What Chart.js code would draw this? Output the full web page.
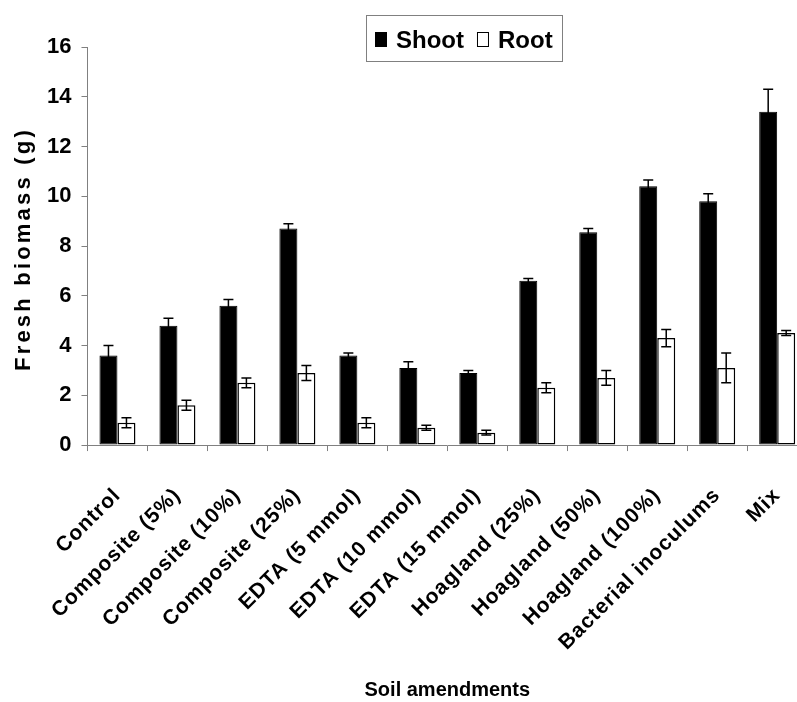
<!DOCTYPE html>
<html>
<head>
<meta charset="utf-8">
<script src="https://cdn.jsdelivr.net/npm/chart.js@4/dist/chart.umd.min.js"></script>
<style>
  html, body { margin: 0; padding: 0; background: #ffffff; overflow: hidden; width: 797px; height: 702px; }
  canvas { display: block; }
</style>
</head>
<body>
<canvas id="chart" width="827" height="702"></canvas>
<script>
// Soil amendment treatments
const categories = [
  "Control", "Composite (5%)", "Composite (10%)", "Composite (25%)",
  "EDTA (5 mmol)", "EDTA (10 mmol)", "EDTA (15 mmol)",
  "Hoagland (25%)", "Hoagland (50%)", "Hoagland (100%)",
  "Bacterial inoculums", "Mix"
];

// Fresh biomass (g) and standard errors
const shootValues = [3.6, 4.8, 5.6, 8.7, 3.6, 3.1, 2.9, 6.6, 8.55, 10.4, 9.8, 13.4];
const shootErrors = [0.4, 0.3, 0.25, 0.2, 0.1, 0.25, 0.1, 0.1, 0.15, 0.25, 0.3, 0.9];
const rootValues  = [0.9, 1.6, 2.5, 2.9, 0.9, 0.7, 0.5, 2.3, 2.7, 4.3, 3.1, 4.5];
const rootErrors  = [0.2, 0.2, 0.2, 0.3, 0.2, 0.1, 0.1, 0.2, 0.3, 0.35, 0.6, 0.1];

const yTicks = [0, 2, 4, 6, 8, 10, 12, 14, 16];

const FONT = "'Liberation Sans', Arial, Helvetica, sans-serif";
const AXIS_GREY = '#808080';

// Error bars: a vertical whisker with caps on every bar
const errorBars = {
  id: 'errorBars',
  afterDatasetsDraw(chart) {
    const ctx = chart.ctx;
    const yScale = chart.scales.y;
    ctx.save();
    ctx.strokeStyle = '#000000';
    ctx.lineWidth = 1.5;
    chart.data.datasets.forEach((ds, i) => {
      const meta = chart.getDatasetMeta(i);
      meta.data.forEach((bar, j) => {
        const v = ds.data[j], e = ds.errors[j];
        const yTop = yScale.getPixelForValue(v + e);
        const yBot = yScale.getPixelForValue(v - e);
        const x = bar.x, half = 5;
        ctx.beginPath();
        ctx.moveTo(x, yTop); ctx.lineTo(x, yBot);
        ctx.moveTo(x - half, yTop); ctx.lineTo(x + half, yTop);
        ctx.moveTo(x - half, yBot); ctx.lineTo(x + half, yBot);
        ctx.stroke();
      });
    });
    ctx.restore();
  }
};

// Slightly tracked category labels on the x axis
const spacedXLabels = {
  id: 'spacedXLabels',
  beforeDraw(chart) {
    const xs = chart.scales.x;
    if (!xs || xs.$spaced) return;
    const drawLabels = xs.drawLabels.bind(xs);
    xs.drawLabels = function (area) {
      this.ctx.save();
      this.ctx.letterSpacing = '1px';
      drawLabels(area);
      this.ctx.restore();
    };
    xs.$spaced = true;
  }
};

// Boxed legend in the upper part of the plot
const boxedLegend = {
  id: 'boxedLegend',
  afterDraw(chart) {
    const ctx = chart.ctx;
    const box = { x: 366.5, y: 15.5, w: 196, h: 46 };
    ctx.save();
    ctx.strokeStyle = AXIS_GREY;
    ctx.lineWidth = 1;
    ctx.strokeRect(box.x, box.y, box.w, box.h);
    ctx.font = `bold 24px ${FONT}`;
    ctx.textBaseline = 'alphabetic';
    ctx.textAlign = 'left';
    let x = 375;
    chart.data.datasets.forEach((ds) => {
      ctx.fillStyle = ds.backgroundColor;
      ctx.fillRect(x, 32, 12, 15);
      ctx.strokeStyle = '#000000';
      ctx.lineWidth = 1;
      ctx.strokeRect(x + 0.5, 32.5, 11, 14);
      x += 12 + 9;
      ctx.fillStyle = '#000000';
      ctx.fillText(ds.label, x, 48);
      x += ctx.measureText(ds.label).width + 13;
    });
    ctx.restore();
  }
};

// Letter-spaced rotated y-axis title
const yTitle = {
  id: 'yTitle',
  afterDraw(chart) {
    const ctx = chart.ctx;
    const area = chart.chartArea;
    ctx.save();
    ctx.translate(24, (area.top + area.bottom) / 2 + 3);
    ctx.rotate(-Math.PI / 2);
    ctx.font = `bold 22px ${FONT}`;
    ctx.letterSpacing = '3.2px';
    ctx.fillStyle = '#000000';
    ctx.textAlign = 'center';
    ctx.textBaseline = 'middle';
    ctx.fillText('Fresh biomass (g)', 0, 0);
    ctx.restore();
  }
};

new Chart(document.getElementById('chart'), {
  type: 'bar',
  data: {
    labels: categories,
    datasets: [
      {
        label: 'Shoot',
        data: shootValues,
        errors: shootErrors,
        backgroundColor: '#000000',
        borderColor: '#000000',
        borderWidth: 1,
        borderSkipped: false,
        categoryPercentage: 0.6,
        barPercentage: 1.0
      },
      {
        label: 'Root',
        data: rootValues,
        errors: rootErrors,
        backgroundColor: '#ffffff',
        borderColor: '#000000',
        borderWidth: 1.5,
        borderSkipped: false,
        categoryPercentage: 0.6,
        barPercentage: 1.0
      }
    ]
  },
  options: {
    responsive: false,
    animation: false,
    devicePixelRatio: 1,
    layout: { padding: { left: 37, top: 47, right: 0, bottom: 0 } },
    plugins: {
      legend: { display: false },
      tooltip: { enabled: false }
    },
    scales: {
      x: {
        grid: { display: true, drawOnChartArea: false, color: AXIS_GREY, tickLength: 6, offset: true },
        border: { display: true, color: AXIS_GREY, width: 1 },
        ticks: {
          color: '#000000',
          font: { family: FONT, size: 21, weight: 'bold' },
          minRotation: 45, maxRotation: 45,
          autoSkip: false,
          padding: 32
        },
        title: {
          display: true,
          text: 'Soil amendments',
          color: '#000000',
          font: { family: FONT, size: 20, weight: 'bold' },
          padding: { top: 4, bottom: 0 }
        }
      },
      y: {
        min: 0,
        max: 16,
        afterBuildTicks(scale) { scale.ticks = yTicks.map(v => ({ value: v })); },
        grid: { display: true, drawOnChartArea: false, color: AXIS_GREY, tickLength: 6 },
        border: { display: true, color: AXIS_GREY, width: 1 },
        ticks: {
          color: '#000000',
          font: { family: FONT, size: 22, weight: 'bold' },
          padding: 10
        }
      }
    }
  },
  plugins: [spacedXLabels, errorBars, boxedLegend, yTitle]
});
</script>
</body>
</html>
